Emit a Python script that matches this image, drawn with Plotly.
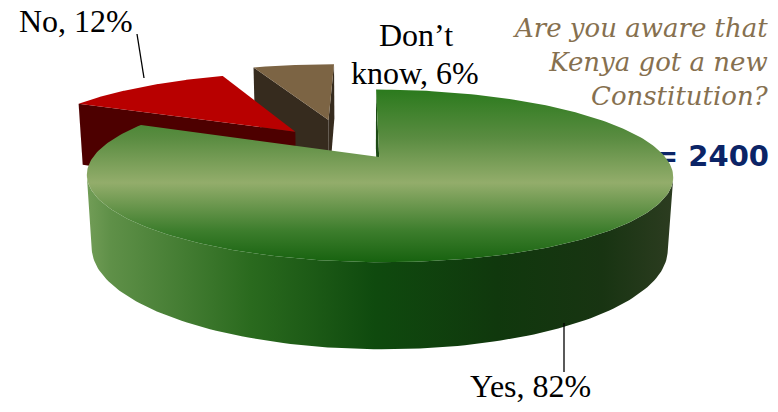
import numpy as np
import plotly.graph_objects as go

# Survey result
categories = ["Yes", "No", "Don’t know"]
values = [82, 12, 6]
question_lines = ["Are you aware that", "Kenya got a new", "Constitution?"]
sample_size = 2400

# ---- styling -------------------------------------------------------------
GREEN_TOP = [[0.0, "#17620f"], [0.18, "#3c7d2c"], [0.46, "#93ad6b"],
             [0.72, "#5a8c41"], [1.0, "#2b7a1d"]]
GREEN_WALL = [[0.0, "#729d57"], [0.04, "#5f9048"], [0.28, "#2a6a1e"],
              [0.49, "#0f4a0e"], [0.7, "#10380d"], [0.88, "#183412"],
              [1.0, "#2c3c20"]]
top_fill = [dict(type="vertical", colorscale=GREEN_TOP), "#b80000", "#7c6444"]
wall_fill = [dict(type="horizontal", colorscale=GREEN_WALL), "#4d0000", "#4a3a28"]
side_fill = ["#1c4a14", "#4d0000", "#362b1e"]
# shift of each slice in the pie plane (u to the right, v toward the back)
explode = [(0.0, 0.0), (-0.31, 0.33), (-0.19, 0.50)]

# ---- simple perspective camera --------------------------------------------
F, D, TILT = 1250.0, 4.37, np.radians(16.7)
S, C = np.sin(TILT), np.cos(TILT)
CAMX = -0.06
CX, CY = 362.0, 157.0
H = 0.26  # thickness of the pie


def project(u, v, y):
    u = np.asarray(u, float)
    v = np.asarray(v, float)
    y = np.asarray(y, float)
    Z = -v
    depth = D - y * S - Z * C
    sx = CX + F * (u - CAMX) / depth
    sy = CY - F * (y * C - Z * S) / depth
    return sx, sy


total = float(sum(values))
bounds = []
cum = 0.0
for val in values:
    hi = 90.0 - 360.0 * cum / total
    lo = hi - 360.0 * val / total
    bounds.append((np.radians(lo), np.radians(hi)))
    cum += val

fig = go.Figure()

# sample size sits behind the pie
fig.add_trace(go.Scatter(
    x=[769], y=[159], mode="text", text=[f"N = {sample_size}"],
    textposition="middle left",
    textfont=dict(family="DejaVu Sans", size=29, color="#0b2466", weight="bold"),
    hoverinfo="skip"))


def add_poly(xs, ys, fill):
    kw = dict(x=np.append(xs, xs[0]), y=np.append(ys, ys[0]), mode="lines",
              fill="toself", line=dict(width=0), hoverinfo="skip")
    if isinstance(fill, dict):
        kw["fillgradient"] = fill
        kw["fillcolor"] = fill["colorscale"][len(fill["colorscale"]) // 2][1]
    else:
        kw["fillcolor"] = fill
    fig.add_trace(go.Scatter(**kw))


def mid_back(i):
    lo, hi = bounds[i]
    m = 0.5 * (lo + hi)
    return explode[i][1] + 0.5 * np.sin(m)


order = sorted(range(len(values)), key=mid_back, reverse=True)
for i in order:
    lo, hi = bounds[i]
    ou, ov = explode[i]
    th = np.linspace(lo, hi, 240)

    # outer wall, the part turned toward the camera
    vis = np.cos(th) * (CAMX - ou) - np.sin(th) * (D * C + ov) - 1.0 > 0
    if vis.any():
        t = th[vis]
        xt, yt = project(ou + np.cos(t), ov + np.sin(t), np.zeros_like(t))
        xb, yb = project(ou + np.cos(t), ov + np.sin(t), -H * np.ones_like(t))
        add_poly(np.concatenate([xt, xb[::-1]]), np.concatenate([yt, yb[::-1]]),
                 wall_fill[i])

    # radial faces
    for a, n in ((hi, (-np.sin(hi), np.cos(hi))), (lo, (np.sin(lo), -np.cos(lo)))):
        pu, pv = ou + 0.5 * np.cos(a), ov + 0.5 * np.sin(a)
        if n[0] * (CAMX - pu) - n[1] * (D * C + pv) > 0:
            uu = [ou, ou + np.cos(a), ou + np.cos(a), ou]
            vv = [ov, ov + np.sin(a), ov + np.sin(a), ov]
            yy = [0, 0, -H, -H]
            xs, ys = project(uu, vv, yy)
            add_poly(xs, ys, side_fill[i])

    # top face
    uu = np.concatenate([[ou], ou + np.cos(th)])
    vv = np.concatenate([[ov], ov + np.sin(th)])
    xs, ys = project(uu, vv, np.zeros_like(uu))
    add_poly(xs, ys, top_fill[i])

# leader lines
fig.add_trace(go.Scatter(x=[137, 144], y=[34, 78], mode="lines",
                         line=dict(color="black", width=1.3), hoverinfo="skip"))
fig.add_trace(go.Scatter(x=[564, 564], y=[323, 372], mode="lines",
                         line=dict(color="black", width=1.3), hoverinfo="skip"))

label_font = dict(family="Liberation Serif", size=32, color="black")
labels = [f"{c}, {v}%" for c, v in zip(categories, values)]
dk_first, dk_second = labels[2].split(" ", 1)
annotations = [
    dict(x=530, y=386, text=labels[0], showarrow=False, font=label_font,
         xanchor="center", yanchor="middle"),
    dict(x=76, y=21, text=labels[1], showarrow=False, font=label_font,
         xanchor="center", yanchor="middle"),
    dict(x=416, y=35, text=dk_first, showarrow=False, font=label_font,
         xanchor="center", yanchor="middle"),
    dict(x=415, y=73, text=dk_second, showarrow=False, font=label_font,
         xanchor="center", yanchor="middle"),
    dict(x=771, y=62, text="<br>".join(question_lines), showarrow=False,
         font=dict(family="DejaVu Serif", size=26, color="#86704f", style="italic"),
         xanchor="right", yanchor="middle", align="right"),
]

fig.update_layout(
    width=778, height=412, margin=dict(l=0, r=0, t=0, b=0),
    paper_bgcolor="white", plot_bgcolor="white", showlegend=False,
    xaxis=dict(range=[0, 778], visible=False, fixedrange=True),
    yaxis=dict(range=[412, 0], visible=False, fixedrange=True),
    annotations=annotations,
)

fig.write_html("out.html")
